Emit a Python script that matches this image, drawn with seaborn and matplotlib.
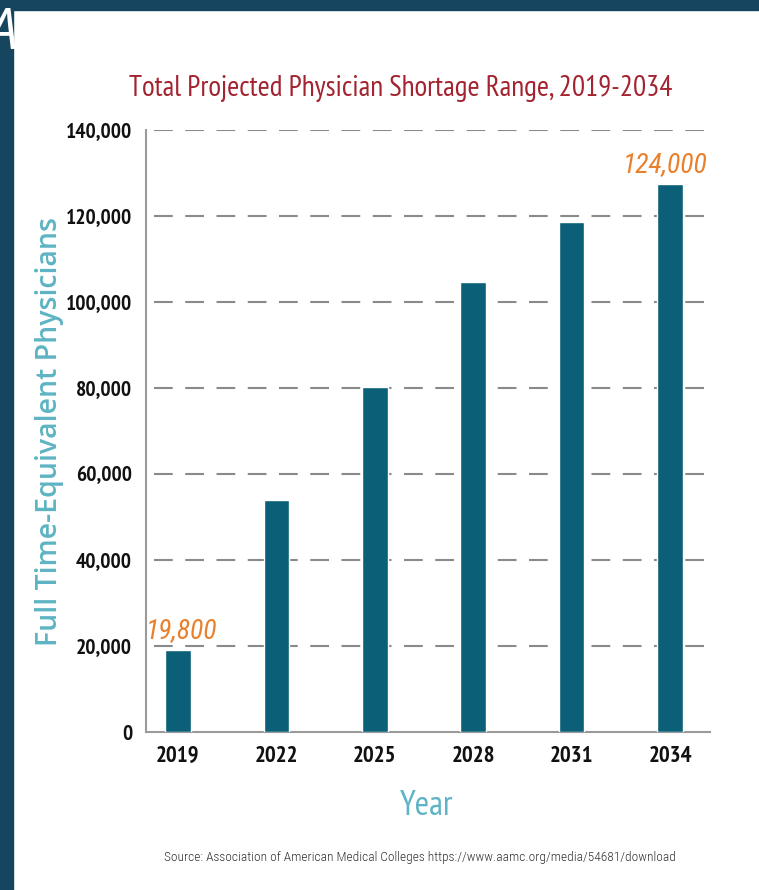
import seaborn as sns
import matplotlib.pyplot as plt
from matplotlib.patches import Rectangle

years = ["2019", "2022", "2025", "2028", "2031", "2034"]
shortage = [19000, 54000, 80200, 104700, 118600, 127400]
callouts = {"2019": "19,800", "2034": "124,000"}
yticks = [0, 20000, 40000, 60000, 80000, 100000, 120000, 140000]

sns.set_style("white")
plt.rcParams['font.family'] = ['PT Sans Narrow', 'DejaVu Sans']

fig = plt.figure(figsize=(7.59, 8.90), dpi=100)
fig.patch.set_facecolor("white")

# dark slide frame on the left and top
frame = "#16465f"
fig.patches.append(Rectangle((0, 0), 13 / 759, 1, transform=fig.transFigure,
                             color=frame, zorder=0))
fig.patches.append(Rectangle((0, 1 - 10 / 890), 1, 10 / 890, transform=fig.transFigure,
                             color=frame, zorder=0))
fig.text(17 / 759, 1 - 6 / 890, "A", color="white", fontsize=40, va="top", ha="right",
         family=["Open Sans"], style="italic", zorder=1)

ax = fig.add_axes([146 / 759, 1 - 732 / 890, 564 / 759, 602 / 890])
sns.barplot(x=years, y=shortage, color="#0b6077", saturation=1, width=0.26,
            ax=ax, zorder=3)

ax.set_xlim(-0.325, 5.406)
ax.set_ylim(0, 140000)
ax.set_yticks(yticks)
ax.set_yticklabels([f"{v:,}" for v in yticks], fontsize=15.5, fontweight="bold",
                   color="#111111")
ax.set_xticks(range(len(years)))
ax.set_xticklabels(years, fontsize=16.5, fontweight="bold", color="#111111")
ax.tick_params(axis="y", length=0, pad=10)
ax.tick_params(axis="x", length=0, pad=10)
ax.set_xlabel("")
ax.set_ylabel("")

for v in yticks[1:]:
    ax.axhline(v, xmin=0.015, xmax=0.991, color="#8a8a8a", lw=1.5,
               linestyle=(0, (9, 6)), zorder=1)

for s in ["top", "right"]:
    ax.spines[s].set_visible(False)
for s in ["left", "bottom"]:
    ax.spines[s].set_color("#9a9a9a")
    ax.spines[s].set_linewidth(1.5)

shift = {"2019": 0.04, "2034": -0.05}
for i, yr in enumerate(years):
    if yr in callouts:
        ax.text(i + shift[yr], shortage[i] + 1500, callouts[yr], color="#e8802c",
                fontsize=20, style="italic", ha="center", va="bottom",
                family=["Roboto Condensed"])

fig.text(50 / 759, 1 - 431 / 890, "Full Time-Equivalent Physicians", color="#5eb4c4",
         fontsize=20.5, family=["Open Sans"], fontweight=600, rotation=90,
         ha="center", va="center")
fig.text(427 / 759, 1 - 806 / 890, "Year", color="#5eb4c4", fontsize=25,
         ha="center", va="center")
fig.text(401 / 759, 1 - 88 / 890, "Total Projected Physician Shortage Range, 2019-2034",
         color="#a32330", fontsize=21, ha="center", va="center")
fig.text(420 / 759, 1 - 857 / 890,
         "Source: Association of American Medical Colleges https://www.aamc.org/media/54681/download",
         color="#333333", fontsize=9.6, ha="center", va="center",
         family=["Roboto Condensed"], fontweight=300)

fig.savefig("out.png", dpi=100)
